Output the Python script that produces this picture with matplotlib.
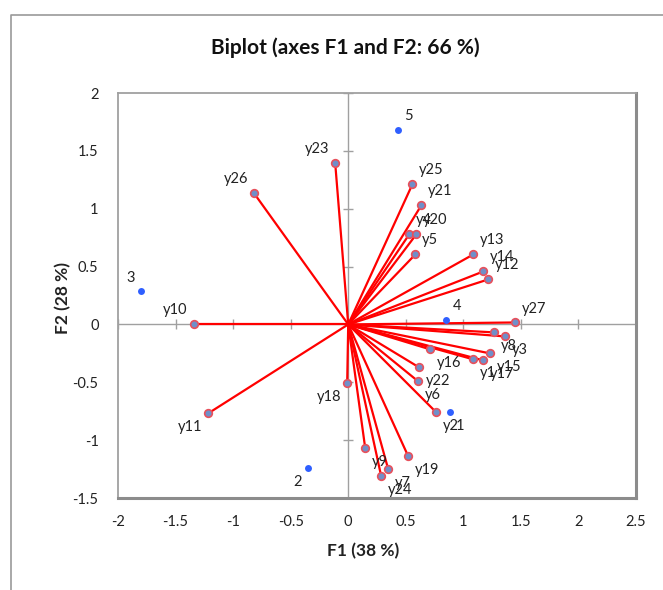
import numpy as np
import matplotlib
matplotlib.use("Agg")
import matplotlib.pyplot as plt
from matplotlib.lines import Line2D

plt.rcParams['font.family'] = ['Lato', 'DejaVu Sans']

# observations (blue dots)
obs_labels = ['1', '2', '3', '4', '5']
obs_f1 = [0.88, -0.35, -1.80, 0.85, 0.435]
obs_f2 = [-0.76, -1.245, 0.285, 0.035, 1.677]

# variables (red vectors)
var_labels = ['y1', 'y2', 'y3', 'y4', 'y5', 'y6', 'y7', 'y8', 'y9', 'y10',
              'y11', 'y12', 'y13', 'y14', 'y15', 'y16', 'y17', 'y18', 'y19',
              'y20', 'y21', 'y22', 'y23', 'y24', 'y25', 'y26', 'y27']
var_f1 = [1.087, 0.765, 1.365, 0.53, 0.583, 0.609, 0.348, 1.27, 0.148, -1.339,
          -1.217, 1.217, 1.087, 1.174, 1.235, 0.713, 1.174, -0.009, 0.522,
          0.591, 0.635, 0.617, -0.113, 0.287, 0.557, -0.817, 1.452]
var_f2 = [-0.302, -0.76, -0.104, 0.778, 0.605, -0.493, -1.253, -0.069, -1.072, 0.0,
          -0.769, 0.389, 0.605, 0.458, -0.251, -0.216, -0.311, -0.51, -1.141,
          0.778, 1.029, -0.372, 1.392, -1.314, 1.21, 1.132, 0.017]

xticks = [-2, -1.5, -1, -0.5, 0, 0.5, 1, 1.5, 2, 2.5]
yticks = [-1.5, -1, -0.5, 0, 0.5, 1, 1.5, 2]

W, H = 663, 590
fig = plt.figure(figsize=(W / 100, H / 100), dpi=100)
ax = fig.add_axes([118 / W, 1 - 498 / H, (636 - 118) / W, (498 - 93) / H])

gray = '#A0A0A0'
ax.set_xlim(-2, 2.5)
ax.set_ylim(-1.5, 2)
for s in ax.spines.values():
    s.set_color(gray)
    s.set_linewidth(1.3)
ax.spines['right'].set_linewidth(2.2)
ax.spines['bottom'].set_linewidth(2.2)
ax.spines['right'].set_color('#8C8C8C')
ax.spines['bottom'].set_color('#8C8C8C')
ax.set_xticks(xticks)
ax.set_yticks(yticks)
ax.set_xticklabels([('%g' % t) for t in xticks])
ax.set_yticklabels([('%g' % t) for t in yticks])
ax.tick_params(length=0, labelsize=10.5, colors='#222222')
ax.tick_params(axis='x', pad=12)
ax.tick_params(axis='y', pad=14)

# zero axes with cross ticks
ax.axhline(0, color=gray, lw=1, zorder=1)
ax.axvline(0, color=gray, lw=1, zorder=1)
ax.plot(xticks, np.zeros(len(xticks)), ls='none', marker='|', ms=7, mew=1, color=gray, zorder=1)
ax.plot(np.zeros(len(yticks)), yticks, ls='none', marker='_', ms=7, mew=1, color=gray, zorder=1)

def place(lbl, x, y):
    ha = 'left' if x >= 0 else 'right'
    va = 'bottom' if y >= 0 else 'top'
    dx = 4.5 if x >= 0 else -4.5
    dy = 5 if y >= 0 else -4.5
    ax.annotate(lbl, (x, y), xytext=(dx, dy), textcoords='offset points',
                ha=ha, va=va, fontsize=10.5, color='#222222', zorder=5)

for lbl, x, y in zip(var_labels, var_f1, var_f2):
    ax.plot([0, x], [0, y], color='#FF0000', lw=1.6, zorder=2)
    ax.plot(x, y, 'o', ms=5.5, mfc='#6F8FC9', mec='#E8505B', mew=1.2, zorder=3)
    place(lbl, x, y)

ax.plot(obs_f1, obs_f2, 'o', ls='none', ms=5, color='#2F5FFF', mec='none', zorder=4)
for lbl, x, y in zip(obs_labels, obs_f1, obs_f2):
    place(lbl, x, y)

fig.text(345 / W, 1 - 48 / H, 'Biplot (axes F1 and F2: 66 %)', ha='center', va='center',
         fontsize=15, fontweight='bold', color='#111111')
fig.text(363 / W, 1 - 551 / H, 'F1 (38 %)', ha='center', va='center',
         fontsize=12.5, fontweight='bold', color='#222222')
fig.text(63 / W, 1 - 298 / H, 'F2 (28 %)', ha='center', va='center', rotation=90,
         fontsize=12.5, fontweight='bold', color='#222222')

# outer chart border (cut by the image edges)
fig.add_artist(Line2D([11 / W, 11 / W, 1.0], [0.0, 1 - 15 / H, 1 - 15 / H],
                      transform=fig.transFigure, color='#9A9A9A', lw=1.2))

fig.savefig('out.png', dpi=100)
